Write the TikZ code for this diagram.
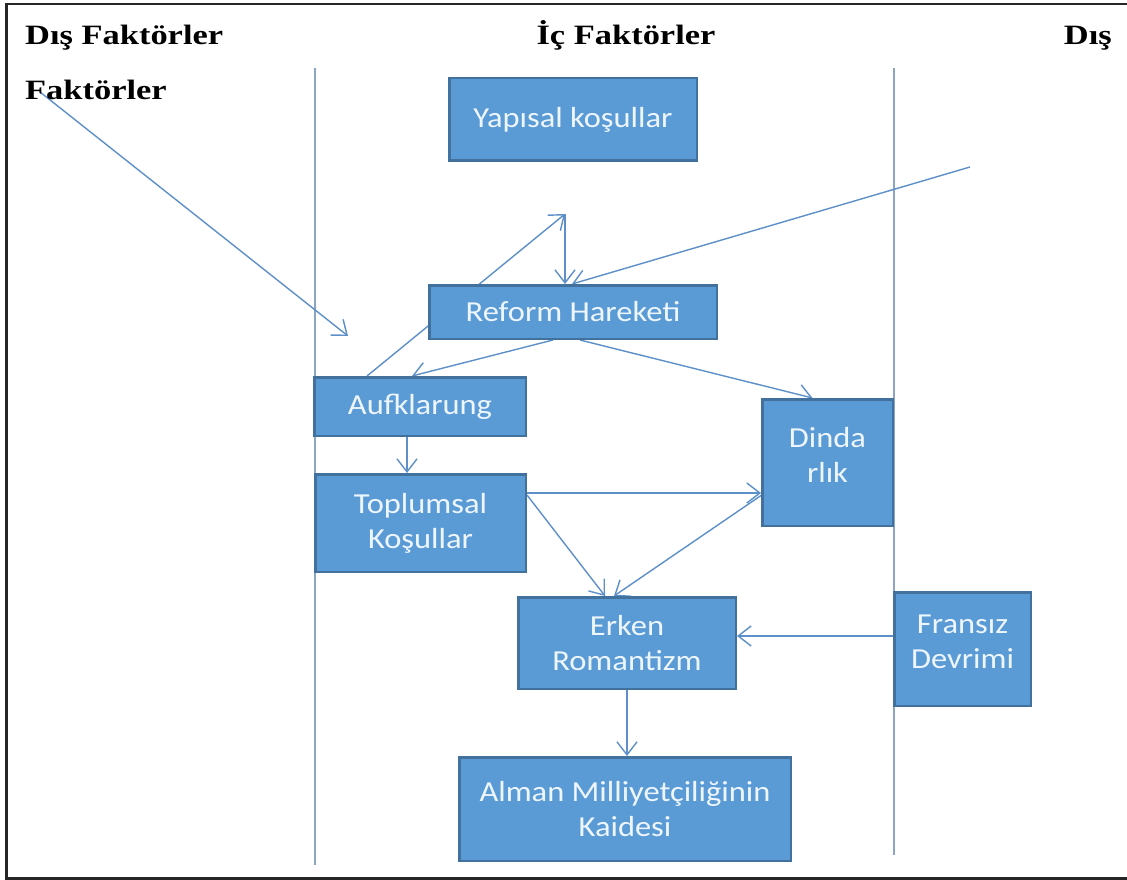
\documentclass[tikz,border=0pt]{standalone}
\usepackage{fontspec}
\setmainfont{Liberation Serif}
\newfontfamily\boxfont[FakeStretch=1.12]{Carlito}
\newfontfamily\headfont[FakeStretch=1.23]{Liberation Serif}
\usetikzlibrary{arrows.meta,backgrounds}

\definecolor{boxfill}{HTML}{5B9BD5}
\definecolor{boxedge}{HTML}{41719C}
\definecolor{boxtext}{HTML}{EEF6FD}
\definecolor{linecol}{HTML}{5D8FC8}
\definecolor{sepcol}{HTML}{8AA6C4}

\begin{document}
\begin{tikzpicture}[x=1pt,y=-1pt,
  box/.style={draw=boxedge, fill=boxfill, line width=2.5pt, text=boxtext,
    font=\boxfont\fontsize{29}{35}\selectfont, align=center, inner sep=0pt},
  boxlbl/.style={text=boxtext, font=\boxfont\fontsize{29}{35}\selectfont,
    align=center, inner sep=0pt},
  conn/.style={draw=linecol, line width=1.4pt, -{Straight Barb[length=13pt,width=20pt]}},
  sep/.style={draw=sepcol, line width=1.8pt},
  head/.style={font=\headfont\bfseries\fontsize{28}{34}\selectfont, inner sep=0pt}]
\useasboundingbox (0,0) rectangle (1127,880);

% column headings
\node[head, anchor=base west] (h1) at (25,45) {Dış Faktörler};
\node[head, anchor=base west] (h1b) at (25,100) {Faktörler};
\node[head, anchor=base] (h2) at (626,45) {İç Faktörler};
\node[head, anchor=base east] (h3) at (1112,45) {Dış};

% boxes
\node[box, minimum width=247.5pt, minimum height=82.5pt] (yap) at (573,119.5) {Yapısal koşullar};
\node[box, minimum width=287.5pt, minimum height=53.5pt] (ref) at (573,312) {Reform Hareketi};
\node[box, minimum width=211.5pt, minimum height=58.5pt] (auf) at (420,406.5) {Aufklarung};
\node[box, minimum width=210.5pt, minimum height=97.5pt] (topl) at (420.5,523) {Toplumsal\\Koşullar};
\node[box, minimum width=130.5pt, minimum height=126.5pt] (din) at (827.5,462.5) {};
\node[boxlbl] (dintxt) at ([yshift=8pt]din.center) {Dinda\\rlık};
\node[box, minimum width=217.5pt, minimum height=91.5pt] (erk) at (627,643) {Erken\\Romantizm};
\node[box, minimum width=136.5pt, minimum height=113.5pt] (fra) at (962.5,649) {};
\node[boxlbl] (fratxt) at ([yshift=7pt]fra.center) {Fransız\\Devrimi};
\node[box, minimum width=331.5pt, minimum height=103.5pt] (alm) at (625,809) {Alman Milliyetçiliğinin\\Kaidesi};

% free ends of the outside influences
\coordinate (s1) at (40,92);
\coordinate (e1) at (348,336);
\coordinate (pk) at (565,214);
\coordinate (s2) at (970,167);

\begin{scope}[on background layer]
  % page frame and column separators
  \draw[line width=2.5pt, draw=black!85] (1127,4) -- (6.5,4) -- (6.5,878.5) -- (1127,878.5);
  \draw[sep] (315,68) -- (315,865);
  \draw[sep] (894,68) -- (894,855);

  % connectors
  \draw[conn] (s1) -- (e1);
  \draw[conn] ([xshift=54pt]auf.north west) -- (pk);
  \draw[conn] (pk) -- (pk |- ref.north);
  \draw[conn] (s2) -- ([xshift=-1pt]ref.north);
  \draw[conn] ([xshift=-20pt]ref.south) -- ([xshift=-8pt]auf.north);
  \draw[conn] ([xshift=7pt]ref.south) -- ([xshift=-15pt]din.north);
  \draw[conn] ([xshift=-13pt]auf.south) -- ([xshift=-13pt]auf.south |- topl.north);
  \draw[conn] ([yshift=30pt]topl.east) -- ([yshift=30pt]topl.east -| din.west);
  \draw[conn] ([yshift=28pt]topl.east) -- ([xshift=-22pt]erk.north);
  \draw[conn] ([yshift=-33pt]din.west) -- ([xshift=-13pt]erk.north);
  \draw[conn] ([yshift=13pt]fra.west) -- ([yshift=13pt]fra.west -| erk.east);
  \draw[conn] (erk.south) -- (erk.south |- alm.north);
\end{scope}
\end{tikzpicture}
\end{document}
